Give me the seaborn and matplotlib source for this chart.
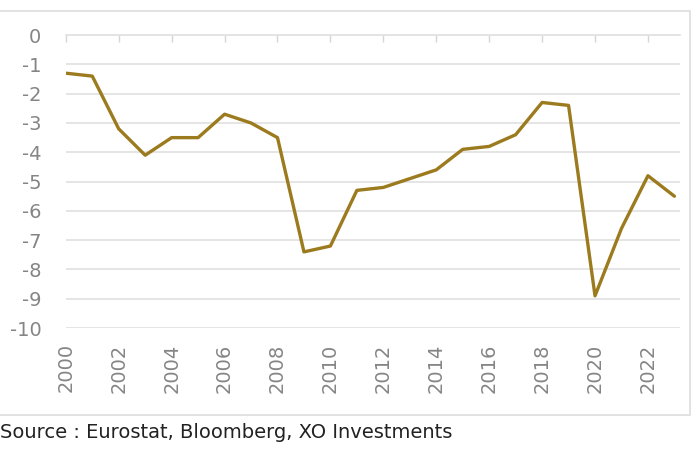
import matplotlib.pyplot as plt
import matplotlib.patches as patches
import seaborn as sns
import pandas as pd

years = list(range(2000, 2024))
balance = [-1.3, -1.4, -3.2, -4.1, -3.5, -3.5, -2.7, -3.0, -3.5, -7.4, -7.2, -5.3,
           -5.2, -4.9, -4.6, -3.9, -3.8, -3.4, -2.3, -2.4, -8.9, -6.6, -4.8, -5.5]
yticks = list(range(0, -11, -1))
xticks = list(range(2000, 2023, 2))

df = pd.DataFrame({"year": years, "balance": balance})

sns.set_style("white")
plt.rcParams['font.family'] = ['DejaVu Sans']

fig = plt.figure(figsize=(7, 4.5), dpi=100)
ax = fig.add_axes([0.094, 0.271, 0.877, 0.651])

# outer frame like the original screenshot
fig.patches.append(patches.Rectangle((-0.01, 0.078), 0.996, 0.898, transform=fig.transFigure,
                                     fill=False, edgecolor='#dddddd', linewidth=1.2))

sns.lineplot(data=df, x="year", y="balance", color='#9c7a1e', linewidth=2.4, ax=ax)

ax.set_xlim(2000, 2023.2)
ax.set_ylim(-10, 0)
ax.set_yticks(yticks)
ax.set_yticklabels([str(v) for v in yticks])
ax.set_xticks(xticks)
ax.set_xticklabels([str(v) for v in xticks], rotation=90)
ax.grid(axis='y', color='#e3e3e3', linewidth=1.3)
ax.set_axisbelow(True)
for s in ['left', 'right', 'bottom']:
    ax.spines[s].set_visible(False)
ax.spines['top'].set_color('#e3e3e3')
ax.spines['top'].set_linewidth(1.3)
ax.tick_params(axis='x', top=True, bottom=False, direction='in', length=5, width=1,
               color='#d6d6d6', labeltop=False, labelbottom=True, labelsize=14,
               labelcolor='#858585', pad=11)
ax.tick_params(axis='y', left=False, labelsize=14, labelcolor='#858585', pad=14)
ax.set_xlabel("")
ax.set_ylabel("")

fig.text(0.0, 0.04, "Source : Eurostat, Bloomberg, XO Investments", fontsize=14,
         color='#222222', ha='left', va='center')

fig.savefig("out.png", dpi=100)
